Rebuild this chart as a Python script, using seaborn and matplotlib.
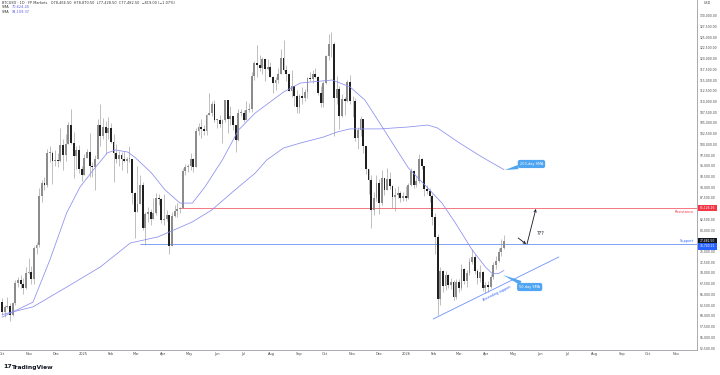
import matplotlib
matplotlib.use("Agg")
import matplotlib.pyplot as plt
import matplotlib.dates as mdates
import matplotlib.transforms as mtransforms
import numpy as np
import pandas as pd
import seaborn as sns

# BTCUSD, 3-day candles starting 2024-10-01, prices in thousands of USD
start_date = "2024-10-01"
first_open = 63.3
closes = [
    60.8, 62.1, 62.3, 60.3, 62.9, 67.6, 68.4, 67.4, 66.6, 69.9, 70.2,
    68.7, 75.9, 76.5, 88.0, 91.0, 90.5, 98.0, 98.0, 96.0, 96.4,
    96.0, 99.9, 97.4, 100.0, 104.4, 100.2, 97.2, 98.7, 94.2, 92.8,
    96.9, 98.2, 95.0, 94.7, 96.5, 104.5, 102.0, 104.0, 102.6, 103.7,
    100.6, 98.0, 96.5, 97.4, 96.6, 96.2, 96.6, 96.6, 88.7, 84.3,
    86.1, 90.6, 80.6, 83.7, 84.3, 82.7, 84.1, 87.5, 87.2, 82.4,
    82.5, 83.5, 76.3, 83.4, 84.5, 84.9, 85.1, 93.7, 94.6, 94.9,
    96.5, 94.7, 103.0, 104.1, 103.5, 103.1, 106.8, 107.3, 109.4, 105.6,
    105.7, 104.7, 105.6, 110.3, 105.9, 106.5, 104.6, 101.0, 107.3, 107.3,
    105.7, 108.0, 108.2, 116.0, 119.0, 118.6, 117.9, 119.9, 117.6, 118.0,
    115.7, 114.2, 114.9, 116.5, 120.1, 117.4, 116.3, 112.4, 113.5, 111.3, 108.8,
    111.2, 110.7, 112.1, 115.5, 115.3, 116.5, 115.7, 112.0, 109.7, 114.4,
    120.6, 123.5, 123.3, 110.7, 113.0, 106.5, 110.6, 110.1, 114.5, 110.0,
    110.1, 101.5, 103.4, 106.0, 99.6, 94.2, 91.6, 84.7, 87.4, 90.9,
    86.3, 92.1, 89.4, 92.0, 90.3, 87.8, 88.1, 88.6, 87.6, 87.9, 87.5,
    90.5, 93.8, 90.6, 91.5, 96.5, 95.0, 89.5, 89.2, 88.0, 83.0,
    78.5, 64.0, 70.5, 67.0, 69.5, 67.2, 68.0, 64.5, 67.8,
    66.5, 71.0, 68.2, 70.0, 72.5, 73.8, 70.5, 68.8, 70.2, 66.5, 67.2,
    66.8, 69.0, 71.8, 72.8, 75.0, 75.8, 77.4825,
]
highs = [
    64.1, 62.5, 64.4, 63.0, 63.3, 68.4, 69.0, 69.5, 68.8, 71.5, 73.6,
    71.6, 76.4, 77.2, 89.9, 91.8, 92.5, 98.9, 99.6, 98.5, 98.7,
    98.0, 103.9, 101.2, 102.5, 105.2, 108.3, 102.8, 99.5, 99.9, 95.0,
    97.8, 98.8, 102.7, 95.8, 97.4, 105.8, 109.4, 106.2, 105.5, 106.4,
    104.9, 102.5, 100.1, 98.5, 98.1, 98.5, 97.0, 99.5, 96.5, 89.0,
    95.0, 92.8, 91.2, 84.3, 85.3, 84.9, 87.4, 88.7, 88.5, 87.4,
    88.5, 84.7, 81.2, 84.2, 85.8, 86.4, 85.3, 94.5, 95.5, 95.5,
    97.9, 96.9, 103.9, 104.9, 105.8, 104.5, 107.1, 111.9, 110.2, 110.4,
    106.0, 106.8, 105.9, 110.4, 110.2, 108.9, 105.6, 103.4, 108.2, 108.2,
    108.0, 110.0, 109.7, 116.8, 119.5, 123.2, 120.8, 120.3, 120.0, 119.8,
    119.3, 116.0, 115.7, 117.9, 122.3, 124.4, 118.6, 114.6, 117.3, 112.7, 112.6,
    111.8, 113.4, 112.9, 115.7, 116.8, 117.3, 117.9, 115.9, 113.5, 114.7,
    120.8, 125.7, 126.2, 123.9, 115.9, 113.6, 111.8, 111.0, 114.9, 116.2,
    111.2, 110.7, 104.1, 106.6, 105.3, 99.0, 93.1, 92.9, 89.0, 92.9,
    91.9, 94.0, 92.0, 94.5, 93.5, 90.6, 89.9, 90.3, 89.2, 89.0, 90.3,
    91.0, 94.5, 94.0, 92.5, 97.8, 96.8, 95.0, 90.5, 89.9, 88.5,
    84.0, 79.0, 71.5, 70.8, 70.5, 69.8, 68.8, 68.3, 68.5,
    68.5, 72.0, 71.2, 70.8, 73.5, 75.5, 74.5, 71.0, 71.8, 70.5, 68.0,
    68.2, 69.8, 72.5, 74.0, 75.8, 78.0, 78.9,
]
lows = [
    60.2, 59.8, 61.9, 58.9, 60.0, 62.6, 66.8, 66.6, 65.1, 66.3, 69.7,
    67.5, 67.5, 74.5, 76.0, 86.6, 89.3, 90.1, 95.8, 90.8, 95.0,
    94.7, 95.8, 94.1, 96.0, 100.0, 100.0, 92.2, 94.3, 93.3, 91.5,
    92.9, 96.9, 92.5, 92.4, 89.3, 96.5, 99.5, 101.2, 97.8, 101.2,
    100.2, 91.2, 95.6, 94.9, 94.1, 95.9, 93.4, 95.9, 86.1, 78.2,
    85.0, 86.0, 80.1, 76.6, 82.0, 81.2, 82.5, 83.6, 85.9, 81.6,
    81.2, 82.2, 74.4, 78.3, 83.1, 83.0, 83.9, 85.1, 92.9, 93.5,
    93.9, 93.5, 94.7, 102.1, 101.5, 102.1, 102.1, 106.8, 106.6, 105.3,
    103.9, 104.0, 100.4, 105.3, 102.7, 104.6, 103.4, 98.2, 100.8, 106.6,
    105.1, 107.2, 107.5, 107.6, 115.1, 115.8, 117.1, 116.5, 114.7, 117.4,
    115.7, 112.0, 112.7, 114.3, 116.4, 117.2, 114.7, 112.4, 111.0, 108.9, 107.4,
    107.3, 109.3, 110.2, 110.8, 114.8, 114.4, 115.5, 111.5, 108.7, 108.7,
    114.0, 119.6, 120.4, 102.0, 109.5, 103.6, 106.3, 106.8, 109.8, 109.5,
    106.3, 100.8, 98.9, 101.9, 98.0, 93.1, 88.5, 80.5, 83.5, 86.9,
    83.8, 85.9, 88.1, 89.3, 89.7, 85.2, 84.5, 87.5, 86.6, 86.7, 86.9,
    87.3, 90.2, 89.8, 90.0, 91.0, 94.3, 88.0, 88.5, 86.5, 81.2,
    74.5, 60.1, 62.5, 65.5, 66.0, 66.5, 66.2, 63.7, 64.0,
    65.5, 66.0, 67.5, 66.8, 69.5, 72.0, 69.8, 67.5, 68.0, 65.8, 65.3,
    65.5, 66.5, 68.5, 71.0, 72.5, 74.0, 75.5,
]

# moving averages (thousands of USD)
sma50_dates = ["2024-10-01", "2024-11-05", "2024-11-24", "2024-12-13", "2024-12-28",
               "2025-01-12", "2025-01-28", "2025-02-06", "2025-02-20", "2025-02-28",
               "2025-03-19", "2025-04-03", "2025-04-20", "2025-05-04", "2025-05-18",
               "2025-06-07", "2025-06-25", "2025-07-14", "2025-08-15", "2025-09-03",
               "2025-10-09", "2025-10-29", "2025-11-15", "2025-11-26", "2025-12-16",
               "2026-01-03", "2026-01-25", "2026-02-10", "2026-02-25", "2026-03-16",
               "2026-03-31", "2026-04-08", "2026-04-15", "2026-04-21"]
sma50_values = [59.7, 63.2, 73.0, 84.0, 90.0, 94.0, 98.0, 98.7, 98.2, 97.0,
                93.3, 89.4, 86.3, 86.3, 90.0, 96.4, 103.3, 107.3, 112.2, 114.3,
                115.0, 113.4, 110.3, 106.8, 100.3, 94.5, 89.8, 86.3, 81.7, 75.4,
                71.4, 69.8, 69.9, 70.6]
sma200_dates = ["2024-10-01", "2024-11-05", "2024-12-13", "2025-01-20", "2025-02-23",
                "2025-03-26", "2025-05-04", "2025-05-26", "2025-06-21", "2025-07-14",
                "2025-07-27", "2025-08-15", "2025-09-03", "2025-09-29", "2025-10-15",
                "2025-10-29", "2025-12-02", "2026-01-03", "2026-01-25", "2026-02-05",
                "2026-02-28", "2026-03-27", "2026-04-21"]
sma200_values = [60.3, 62.1, 66.7, 71.4, 77.0, 78.4, 81.9, 84.7, 89.35, 93.3,
                 96.35, 99.15, 100.3, 101.7, 102.9, 103.6, 103.6, 104.05, 104.5, 103.8,
                 100.55, 97.05, 94.1]

resistance = 85126.16
support = 76740.21
resistance_from = "2025-04-20"
support_from = "2025-03-06"
trend_dates = ["2026-01-31", "2026-06-22"]
trend_values = [59270, 73730]

header = "BTCUSD · 1D · FP Markets   O78,466.50  H78,870.50  L77,428.50  C77,482.50  −819.00 (−1.07%)"
sma_readouts = ["70,624.40", "94,109.37"]

sns.set_theme(style="white")
plt.rcParams["font.family"] = ["DejaVu Sans"]

fig = plt.figure(figsize=(7.2, 3.75), dpi=100)
ax = fig.add_axes([0, 25 / 375, 697 / 720, 350 / 375])

# candles
df = pd.DataFrame({
    "date": pd.date_range(start_date, periods=len(closes), freq="3D"),
    "open": np.array([first_open] + closes[:-1]) * 1000,
    "high": np.array(highs) * 1000,
    "low": np.array(lows) * 1000,
    "close": np.array(closes) * 1000,
})
body_lo = df[["open", "close"]].min(axis=1)
body_hi = df[["open", "close"]].max(axis=1)
up = df["close"] >= df["open"]
ax.vlines(df["date"], np.minimum(df["low"], body_lo), np.maximum(df["high"], body_hi),
          color="#8f8f8f", lw=0.4, zorder=2)
ax.bar(df["date"], (body_hi - body_lo).clip(lower=200), bottom=body_lo, width=2.1,
       color=np.where(up, "#8c8c8c", "#202020"), lw=0, zorder=3)

# SMAs
sma = pd.DataFrame({
    "date": pd.to_datetime(sma50_dates + sma200_dates),
    "value": np.array(sma50_values + sma200_values) * 1000,
    "line": ["50"] * len(sma50_dates) + ["200"] * len(sma200_dates),
})
sns.lineplot(data=sma, x="date", y="value", hue="line",
             palette={"50": "#8a8df0", "200": "#8a8df0"}, lw=0.55,
             legend=False, ax=ax, zorder=4)

# levels and trendline
x_right = pd.Timestamp("2026-11-25")
ax.hlines(resistance, pd.Timestamp(resistance_from), x_right, color="#f4606c", lw=0.6, zorder=1)
ax.hlines(support, pd.Timestamp(support_from), x_right, color="#6b93f2", lw=0.6, zorder=1)
sns.lineplot(x=pd.to_datetime(trend_dates), y=trend_values, color="#6b93f2", lw=0.6, ax=ax)

ax.set_xlim(pd.Timestamp("2024-09-28 18:00"), x_right)
ax.set_ylim(52040, 133660)
ax.set_xlabel("")
ax.set_ylabel("")

months = pd.date_range("2024-10-01", "2026-11-01", freq="MS")
ax.set_xticks(months)
ax.set_xticklabels([str(d.year) if d.month == 1 else d.strftime("%b") for d in months])
price_ticks = np.arange(52500, 130001, 2500)
ax.yaxis.tick_right()
ax.set_yticks(price_ticks)
ax.set_yticklabels([f"{v:,.2f}" for v in price_ticks])
ax.tick_params(axis="both", labelsize=2.2, colors="#444444", length=0)
ax.tick_params(axis="x", labelsize=2.5, pad=1.5)
ax.tick_params(axis="y", pad=2.2)
for side in ["top", "left"]:
    ax.spines[side].set_visible(False)
for side in ["right", "bottom"]:
    ax.spines[side].set_color("#9a9ca3")
    ax.spines[side].set_linewidth(0.6)

# price tags on the axis
trans = mtransforms.blended_transform_factory(ax.transAxes, ax.transData)
tag = dict(fontsize=2.2, color="white", va="center", ha="left", transform=trans, clip_on=False)
ax.text(1.004, resistance, f"{resistance:,.2f}", bbox=dict(boxstyle="square,pad=0.45", fc="#f23645", ec="none"), **tag)
ax.text(1.004, df["close"].iloc[-1], f"{df['close'].iloc[-1]:,.2f}", bbox=dict(boxstyle="square,pad=0.45", fc="#131722", ec="none"), **tag)
ax.text(1.004, support - 550, f"{support:,.2f}", bbox=dict(boxstyle="square,pad=0.45", fc="#2962ff", ec="none"), **tag)
fig.text(704 / 720, 1 - 3 / 375, "USD", fontsize=2.4, color="#444444", va="center")

ax.annotate("Resistance", xy=(0.996, resistance), xycoords=trans, xytext=(0, -1),
            textcoords="offset points", ha="right", va="top", fontsize=2.5, color="#f23645")
ax.annotate("Support", xy=(0.996, support), xycoords=trans, xytext=(0, 1),
            textcoords="offset points", ha="right", va="bottom", fontsize=2.5, color="#2962ff")

# callouts
callout = dict(fontsize=2.5, color="white", ha="center", va="center",
               bbox=dict(boxstyle="round,pad=0.6", fc="#4fa5f2", ec="none"),
               arrowprops=dict(arrowstyle="wedge,tail_width=0.5", fc="#4fa5f2", ec="none",
                               mutation_scale=6, shrinkA=0, shrinkB=0))
ax.annotate("50-day SMA", xy=(pd.Timestamp("2026-04-20"), 69530),
            xytext=(pd.Timestamp("2026-05-20"), 66730), **callout)
ax.annotate("200-day SMA", xy=(pd.Timestamp("2026-04-22"), 94000),
            xytext=(pd.Timestamp("2026-05-22"), 95420), **callout)

# projected move
arrow = dict(arrowstyle="->", color="#131722", lw=0.6, mutation_scale=4, shrinkA=0, shrinkB=0)
ax.annotate("", xy=(pd.Timestamp("2026-05-16"), 76760), xytext=(pd.Timestamp("2026-05-07"), 78160), arrowprops=arrow)
ax.annotate("", xy=(pd.Timestamp("2026-05-27"), 84930), xytext=(pd.Timestamp("2026-05-17"), 76760), arrowprops=arrow)
ax.text(pd.Timestamp("2026-05-28"), 79280, "???", fontsize=3.5, color="#131722", ha="left", va="center")

# trendline label, rotated along the line
p = ax.transData.transform([[mdates.date2num(pd.Timestamp(d)), v] for d, v in zip(trend_dates, trend_values)])
angle = np.degrees(np.arctan2(p[1, 1] - p[0, 1], p[1, 0] - p[0, 0]))
ax.text(pd.Timestamp("2026-04-13"), 65330, "Ascending support", fontsize=2.4, color="#2962ff",
        rotation=angle, rotation_mode="anchor", ha="center", va="center")

# header readouts
fig.text(0.0025, 1 - 2.5 / 375, header, fontsize=2.5, color="#333333", va="center")
for i, val in enumerate(sma_readouts):
    y = 1 - (7 + 5 * i) / 375
    fig.text(0.0025, y, "SMA", fontsize=2.5, color="#333333", va="center")
    fig.text(0.016, y, val, fontsize=2.5, color="#5b5fe6", va="center")

# watermark
fig.text(3 / 720, 1 - 367 / 375, "17", fontsize=4.6, weight="bold", color="#131722", va="center")
fig.text(11.5 / 720, 1 - 367 / 375, "TradingView", fontsize=4.3, weight="bold", color="#131722", va="center")

fig.savefig("out.png", dpi=100)
